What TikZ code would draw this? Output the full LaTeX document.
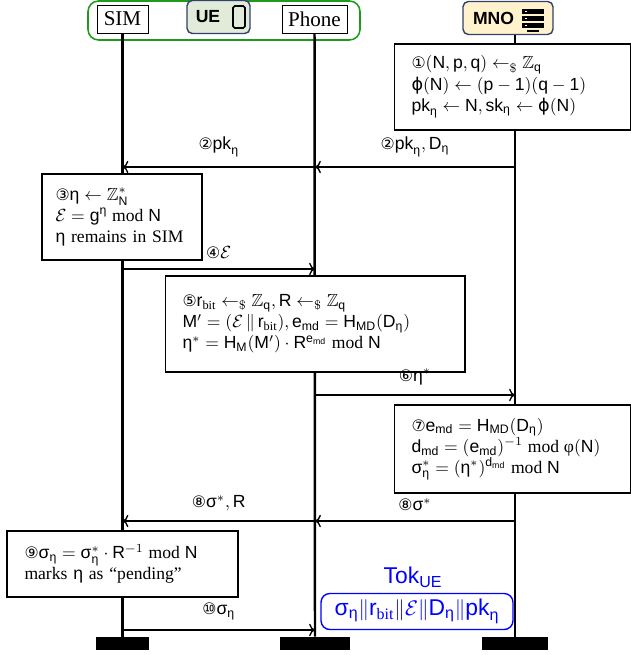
\documentclass[tikz,border=0pt]{standalone}
\usepackage{amsmath, amssymb}
\usepackage{fontspec}
\setmainfont{Liberation Serif}
\setsansfont{Liberation Sans}
\newfontfamily\grk{Liberation Sans}
\newfontfamily\dvs{DejaVu Sans}
\usetikzlibrary{arrows.meta, positioning}

\newcommand{\et}{\text{\grk η}}
\newcommand{\sg}{\text{\grk σ}}
\newcommand{\cnum}[1]{{\dvs\small #1}}
\newcommand{\sfm}[1]{\mathsf{#1}}

\definecolor{uefill}{RGB}{226,234,217}
\definecolor{mnofill}{RGB}{255,242,204}
\definecolor{iconline}{RGB}{50,66,104}
\definecolor{groupgreen}{RGB}{30,155,30}

\tikzset{
  headbox/.style={draw, fill=white, inner sep=0pt, minimum height=0.56cm, font=\large},
  iconbox/.style={draw=iconline, line width=0.8pt, rounded corners=3pt, inner sep=0pt, minimum height=0.66cm},
  stepbox/.style={draw, fill=white, align=left, inner xsep=0.35cm, line width=0.6pt},
  life/.style={line width=1.4pt},
  msg/.style={->, line width=0.8pt},
  endbar/.style={fill=black, minimum height=0.26cm, inner sep=0pt},
  tokbox/.style={draw=blue, text=blue, rounded corners=5pt, line width=0.8pt, minimum width=3.84cm, minimum height=0.72cm, inner sep=1pt, font=\fontsize{13pt}{15pt}\selectfont},
}

\begin{document}
\begin{tikzpicture}[x=0.02cm, y=-0.02cm]
\useasboundingbox (0,0) rectangle (631,655);

\draw[groupgreen, line width=0.9pt, rounded corners=6pt] (88,1) rectangle (360,40);
\node[headbox, minimum width=1.02cm] (sim) at (122.5,19) {SIM};
\node[iconbox, fill=uefill, minimum width=1.26cm] (ue) at (218.5,17) {\textsf{\textbf{UE}}\hspace{0.42cm}\null};
\draw[line width=0.9pt, rounded corners=1pt] (233,6) rectangle (245,28);
\node[headbox, minimum width=1.3cm] (phone) at (314.5,19) {Phone};
\node[iconbox, fill=mnofill, minimum width=1.8cm] (mno) at (508,18) {\textsf{\textbf{MNO}}\hspace{0.58cm}\null};
\foreach \k in {0,1,2} {
  \fill (522,9+7*\k) rectangle (544,14+7*\k);
  \fill[white] (525,11+7*\k) rectangle (527,12+7*\k);
}
\draw[line width=0.8pt] (527,31) -- (539,31);

\node[endbar, minimum width=1.06cm] (simend) at (122.5,643.5) {};
\node[endbar, minimum width=1.4cm] (phoneend) at (315,643.5) {};
\node[endbar, minimum width=1.32cm] (mnoend) at (515,643.5) {};

\draw[life] (sim) -- (simend);
\draw[life] (phone) -- (phoneend);
\draw[life] (mno.south -| mnoend) -- (mnoend);

\node[stepbox, text width=4.04cm, minimum height=1.72cm] (gen) at (512.5,87) {
  \cnum{①}$(\sfm{N},\sfm{p},\sfm{q})\leftarrow_{\$}\mathbb{Z}_{\sfm{q}}$\\
  $\text{\dvs ϕ}(\sfm{N})\leftarrow(\sfm{p}-\sfm{1})(\sfm{q}-\sfm{1})$\\
  $\sfm{pk}_{\et}\leftarrow\sfm{N},\sfm{sk}_{\et}\leftarrow\text{\dvs ϕ}(\sfm{N})$};
\node[stepbox, text width=2.66cm, inner xsep=0.27cm, minimum height=1.72cm] (blind) at (122,217) {
  \cnum{③}$\et\leftarrow\mathbb{Z}_{\sfm{N}}^*$\\
  $\mathcal{E}=\sfm{g}^{\et}\bmod\sfm{N}$\\
  $\et$ remains in SIM};
\node[stepbox, text width=5.3cm, minimum height=1.92cm] (commit) at (315,324) {
  \cnum{⑤}$\sfm{r}_{\mathrm{bit}}\leftarrow_{\$}\mathbb{Z}_{\sfm{q}},\sfm{R}\leftarrow_{\$}\mathbb{Z}_{\sfm{q}}$\\
  $\sfm{M}'=(\mathcal{E}\,\|\,\sfm{r}_{\mathrm{bit}}),\sfm{e}_{\sfm{md}}=\sfm{H}_{\sfm{MD}}(\sfm{D}_{\et})$\\
  $\et^*=\sfm{H}_{\sfm{M}}(\sfm{M}')\cdot\sfm{R}^{\sfm{e}_{\sfm{md}}}\bmod\sfm{N}$};
\node[stepbox, text width=4.04cm, minimum height=1.76cm] (sign) at (512.5,449) {
  \cnum{⑦}$\sfm{e}_{\sfm{md}}=\sfm{H}_{\sfm{MD}}(\sfm{D}_{\et})$\\
  $\sfm{d}_{\sfm{md}}=(\sfm{e}_{\sfm{md}})^{-1}\bmod\text{φ}(\sfm{N})$\\
  $\sg_{\et}^*=(\et^*)^{\sfm{d}_{\sfm{md}}}\bmod\sfm{N}$};
\node[stepbox, text width=3.92cm, minimum height=1.32cm] (unblind) at (122.5,564) {
  \cnum{⑨}$\sg_{\et}=\sg_{\et}^*\cdot\sfm{R}^{-1}\bmod\sfm{N}$\\
  marks $\et$ as ``pending''};

\foreach \r/\y in {2/167,4/269,6/395,8/521,10/630} {
  \coordinate (s\r) at (122.5,\y);
  \coordinate (p\r) at (315,\y);
  \coordinate (m\r) at (515,\y);
}
\draw[msg] (m2) -- node[above=2pt] {\cnum{②}$\sfm{pk}_{\et},\sfm{D}_{\et}$} (p2);
\draw[msg] (p2) -- node[above=2pt] {\cnum{②}$\sfm{pk}_{\et}$} (s2);
\draw[msg] (s4) -- node[above=2pt] {\cnum{④}$\mathcal{E}$} (p4);
\draw[msg] (p6) -- node[above=2pt] {\cnum{⑥}$\et^*$} (m6);
\draw[msg] (m8) -- node[above=2pt] {\cnum{⑧}$\sg^*$} (p8);
\draw[msg] (p8) -- node[above=2pt] {\cnum{⑧}$\sg^*,\sfm{R}$} (s8);
\draw[msg] (s10) -- node[above=2pt] {\cnum{⑩}$\sg_{\et}$} (p10);

\node[text=blue, font=\fontsize{13pt}{15pt}\selectfont] (toklabel) at (413,577) {\textsf{Tok}$_{\sfm{UE}}$};
\node[tokbox] (tok) at (417,611.5) {$\sg_{\et}\|\sfm{r}_{\mathrm{bit}}\|\mathcal{E}\|\sfm{D}_{\et}\|\sfm{pk}_{\et}$};
\end{tikzpicture}
\end{document}
